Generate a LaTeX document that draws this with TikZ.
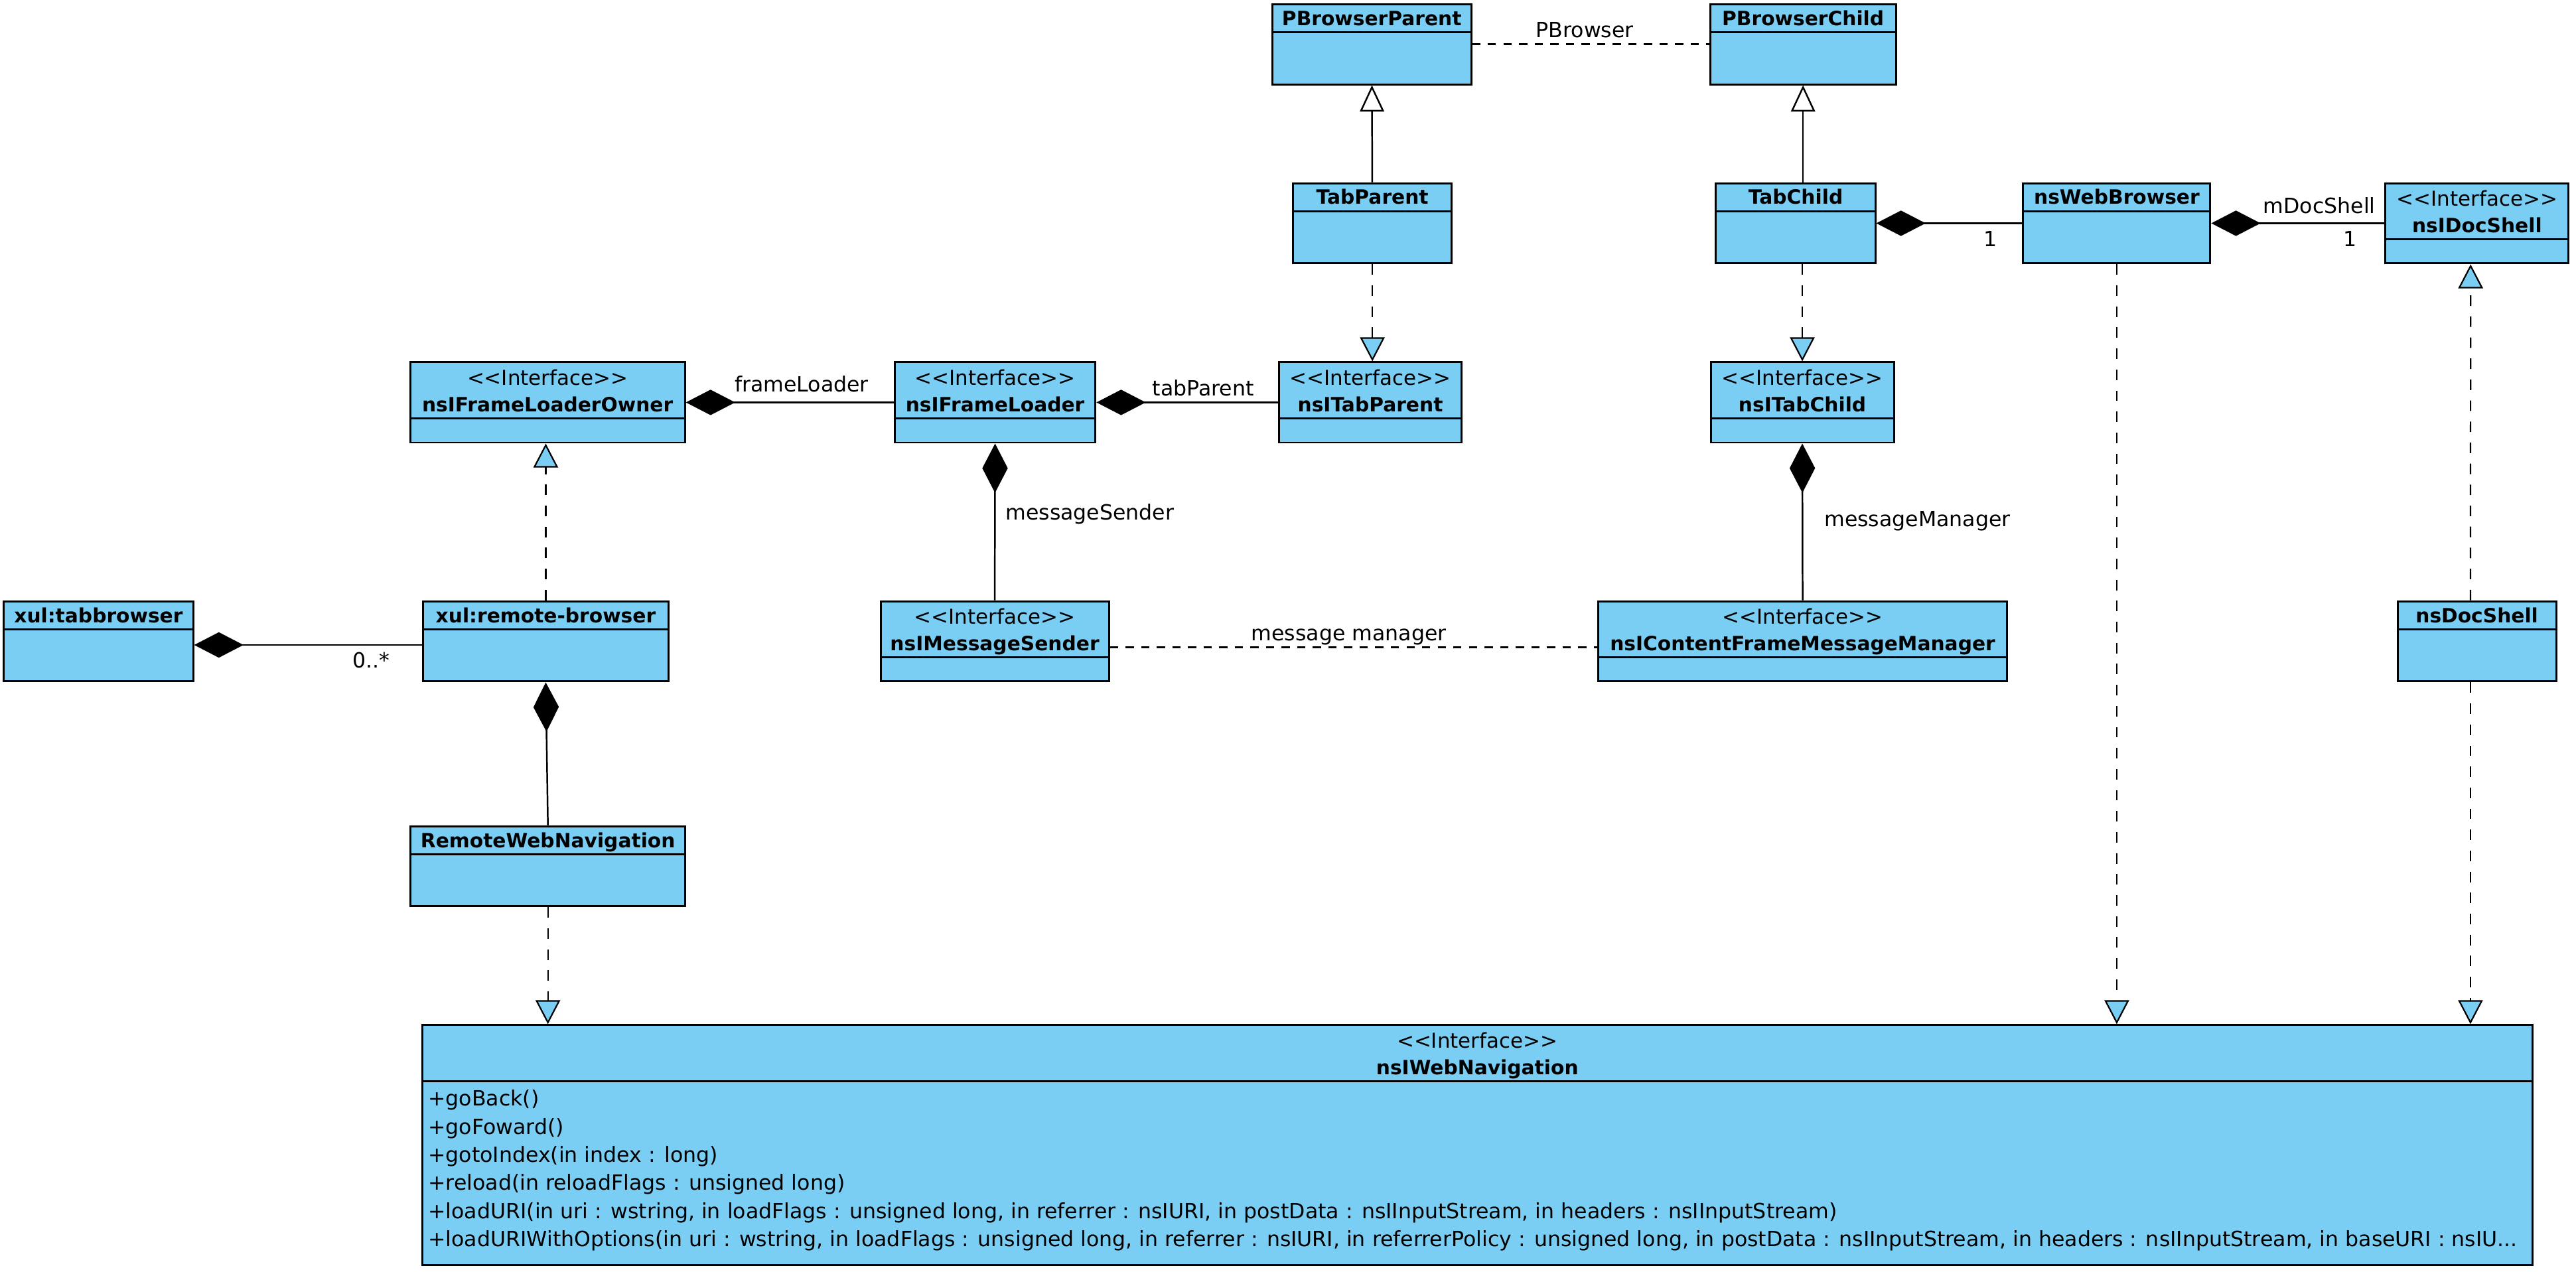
\documentclass[tikz,border=0pt]{standalone}
\usepackage{fontspec}
\setmainfont{DejaVu Sans}
\usepackage{tikz}
\usetikzlibrary{arrows.meta,fit,calc}
\definecolor{classblue}{HTML}{7ACEF4}
\tikzset{
  classbox/.style={draw=black, fill=classblue, line width=1.2pt, inner sep=0pt},
  boxrule/.style={draw=black, line width=1.2pt},
  classname/.style={font=\fontsize{12}{14}\selectfont\bfseries, inner sep=0pt,
                    text height=8.8pt, text depth=0pt},
  stereo/.style={font=\fontsize{12.5}{14}\selectfont, inner sep=0pt,
                 text height=9pt, text depth=0pt},
  method/.style={font=\fontsize{12.75}{14}\selectfont, inner sep=0pt, anchor=base west},
  lbl/.style={font=\fontsize{12.75}{14}\selectfont, inner sep=0pt, anchor=base},
  gen/.style={-{Triangle[length=16pt,width=14.7pt,fill=white]}, line width=1pt},
  real/.style={-{Triangle[length=14.6pt,width=15pt,fill=classblue]}, line width=.9pt,
               dash pattern=on 6.4pt off 6.4pt},
  comp/.style={{Diamond[length=30pt,width=15.5pt]}-, line width=1pt},
  assoc/.style={line width=1.2pt, dash pattern=on 5pt off 4.5pt}
}
% class box: name, left, top, right, bottom, title
\newcommand{\umlclass}[6]{%
  \node[classbox, fit={(#2,#3) (#4,#5)}] (#1) {};
  \draw[boxrule] (#2,#3+17) -- (#4,#3+17);
  \node[classname] (#1-name) at ({(#2+#4)/2},#3+8.5) {#6};
}
% interface box: same, with the stereotype line
\newcommand{\umliface}[6]{%
  \node[classbox, fit={(#2,#3) (#4,#5)}] (#1) {};
  \draw[boxrule] (#2,#3+34) -- (#4,#3+34);
  \node[stereo] (#1-st) at ({(#2+#4)/2},#3+9.5) {<\kern0pt<Interface>\kern0pt>};
  \node[classname] (#1-name) at ({(#2+#4)/2},#3+25.8) {#6};
}
\newcommand{\trail}{...}
\begin{document}
\begin{tikzpicture}[x=1pt, y=-1pt]
  \useasboundingbox (0,0) rectangle (1568,774.3);

  \umlclass{pbp}{774.5}{2.5}{895.5}{51.3}{PBrowserParent}
  \umlclass{pbc}{1041}{2.5}{1154}{51.3}{PBrowserChild}
  \umlclass{tp}{787}{111.5}{883.7}{160.3}{TabParent}
  \umlclass{tc}{1044.5}{111.5}{1141.5}{160.3}{TabChild}
  \umlclass{nwb}{1231.5}{111.5}{1345.4}{160.3}{nsWebBrowser}
  \umliface{ids}{1452}{111.5}{1563.5}{160.3}{nsIDocShell}

  \umliface{flo}{249.7}{220.5}{416.9}{269.4}{nsIFrameLoaderOwner}
  \umliface{fl}{544.6}{220.5}{666.8}{269.4}{nsIFrameLoader}
  \umliface{itp}{778.4}{220.5}{889.8}{269.4}{nsITabParent}
  \umliface{itc}{1041.3}{220.5}{1152.8}{269.4}{nsITabChild}

  \umlclass{tb}{2.3}{366}{117.6}{414.8}{xul:tabbrowser}
  \umlclass{rb}{257.3}{366}{407.1}{414.8}{xul:remote-browser}
  \umliface{ims}{536}{366}{675}{414.8}{nsIMessageSender}
  \umliface{cfmm}{973}{366}{1221.5}{414.8}{nsIContentFrameMessageManager}
  \umlclass{ds}{1459.4}{366}{1555.9}{414.8}{nsDocShell}

  \umlclass{rwn}{250}{502.9}{417}{551.7}{RemoteWebNavigation}
  \umliface{iwn}{257}{624}{1541.4}{769.9}{nsIWebNavigation}

  \foreach \m [count=\i from 0] in {{+goBack()},{+goFoward()},
      {+gotoIndex(in index : long)},{+reload(in reloadFlags : unsigned long)},
      {+loadURI(in uri : wstring, in loadFlags : unsigned long, in referrer : nsIURI, in postData : nsIInputStream, in headers : nsIInputStream)},
      {+loadURIWithOptions(in uri : wstring, in loadFlags : unsigned long, in referrer : nsIURI, in referrerPolicy : unsigned long, in postData : nsIInputStream, in headers : nsIInputStream, in baseURI : nsIU\trail}}
    \node[method] (meth\i) at (260.5,673.2+17.1*\i) {\m};

  % inheritance and realization
  \draw[assoc] (pbp) -- node[lbl, pos=.475, yshift=4pt] {PBrowser} (pbc);
  \draw[gen] (tp) -- (pbp);
  \draw[gen] (pbc.south |- tc.north) -- (pbc.south);
  \draw[real] (tp.south) -- (tp.south |- itp.north);
  \draw[real] (itc.north |- tc.south) -- (itc.north);
  \draw[real] (rb.north) -- (rb.north |- flo.south);
  \draw[real] (rwn.south) -- (rwn.south |- iwn.north);
  \draw[real] (nwb.south) -- (nwb.south |- iwn.north);
  \draw[real] ([xshift=-3.9pt]ds.north) -- ([xshift=-3.9pt]ids.south);
  \draw[real] ([xshift=-3.9pt]ds.south) -- ([xshift=-3.9pt]ds.south |- iwn.north);

  % compositions
  \draw[comp] (tc.east) -- node[lbl, pos=.783, yshift=-14.3pt] {1} (nwb.west);
  \draw[comp] (nwb.east) -- node[lbl, pos=.624, yshift=6.2pt] {mDocShell}
                            node[lbl, pos=.8, yshift=-14.3pt] {1} (ids.west);
  \draw[comp] (flo.east) -- node[lbl, pos=.557, yshift=6.4pt] {frameLoader} (fl.west);
  \draw[comp] (fl.east) -- node[lbl, pos=.588, yshift=4pt] {tabParent} (itp.west);
  \draw[comp] (fl.south) -- node[lbl, anchor=base west, pos=.487, xshift=6pt] {messageSender} (ims.north);
  \draw[comp] (itc.south) -- node[lbl, anchor=base west, pos=.531, xshift=12.8pt] {messageManager} (cfmm.north);
  \draw[comp] ([yshift=-2.2pt]tb.east) -- node[lbl, pos=.777, yshift=-14pt] {0..*} ([yshift=-2.2pt]rb.west);
  \draw[comp] (rb.south) -- (rwn.north);

  \draw[assoc] ([yshift=-3.6pt]ims.east) -- node[lbl, pos=.49, yshift=4.2pt] {message manager} ([yshift=-3.6pt]cfmm.west);
\end{tikzpicture}
\end{document}
